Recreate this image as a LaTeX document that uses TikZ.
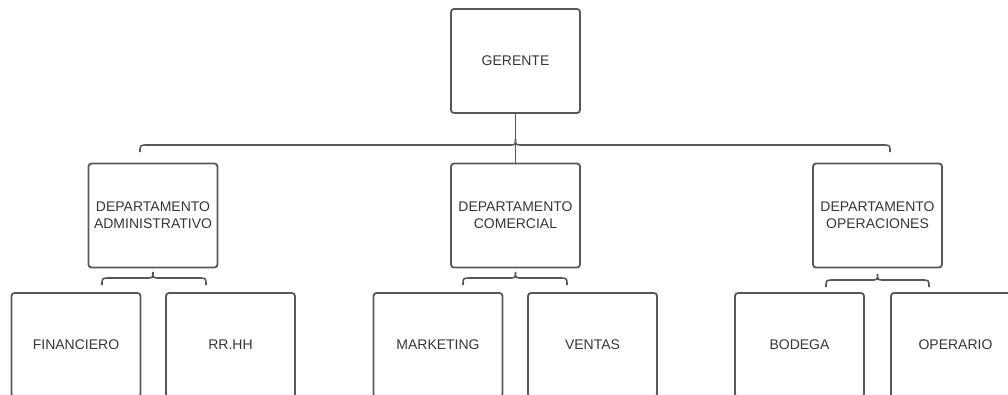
\documentclass[tikz,border=0pt]{standalone}
\usepackage{fontspec}
\setmainfont{Liberation Sans}
\usetikzlibrary{positioning,calc}

\definecolor{linegray}{HTML}{585858}
\definecolor{textgray}{HTML}{363636}

\tikzset{
  orgbox/.style={draw=linegray, line width=1.8pt, rounded corners=3pt,
    minimum width=129pt, minimum height=104pt, align=center,
    text=textgray, font=\fontsize{14}{16.7}\selectfont},
  link/.style={draw=linegray, line width=1.6pt}
}

% brace: left x, right x, centre x, height of the bar
\newcommand{\orgbrace}[4]{%
  \draw[link] (#1, #4+7) .. controls (#1, #4) .. (#1+8, #4)
    -- (#3-7, #4) .. controls (#3, #4) .. (#3, #4-6)
    .. controls (#3, #4) .. (#3+7, #4)
    -- (#2-8, #4) .. controls (#2, #4) .. (#2, #4+7);}

\begin{document}
\begin{tikzpicture}[x=1pt, y=-1pt]
            \useasboundingbox (0,0) rectangle (1008,394);
            \clip (0,0) rectangle (1008,394);

            \node[orgbox] (ger) at (515.5, 61) {GERENTE};

            \node[orgbox] (adm) at (153, 215.5) {DEPARTAMENTO\\ADMINISTRATIVO};
            \node[orgbox] (com) at (515.5, 215.5) {DEPARTAMENTO\\COMERCIAL};
            \node[orgbox] (ope) at (877.5, 215.5) {DEPARTAMENTO\\OPERACIONES};

            \node[orgbox] (fin) at (76, 345) {FINANCIERO};
            \node[orgbox] (rrh) at (230.5, 345) {RR.HH};
            \node[orgbox] (mkt) at (438, 345) {MARKETING};
            \node[orgbox] (ven) at (592.5, 345) {VENTAS};
            \node[orgbox] (bod) at (799.5, 345) {BODEGA};
            \node[orgbox] (opr) at (955.5, 345) {OPERARIO};

            \draw[link] (ger.south) -- (com.north);

            \orgbrace{140}{890}{515.5}{145}
            \orgbrace{102}{206}{153}{278}
            \orgbrace{463}{567}{515.5}{278}
            \orgbrace{826}{929}{877.5}{280}

        \end{tikzpicture}
\end{document}
